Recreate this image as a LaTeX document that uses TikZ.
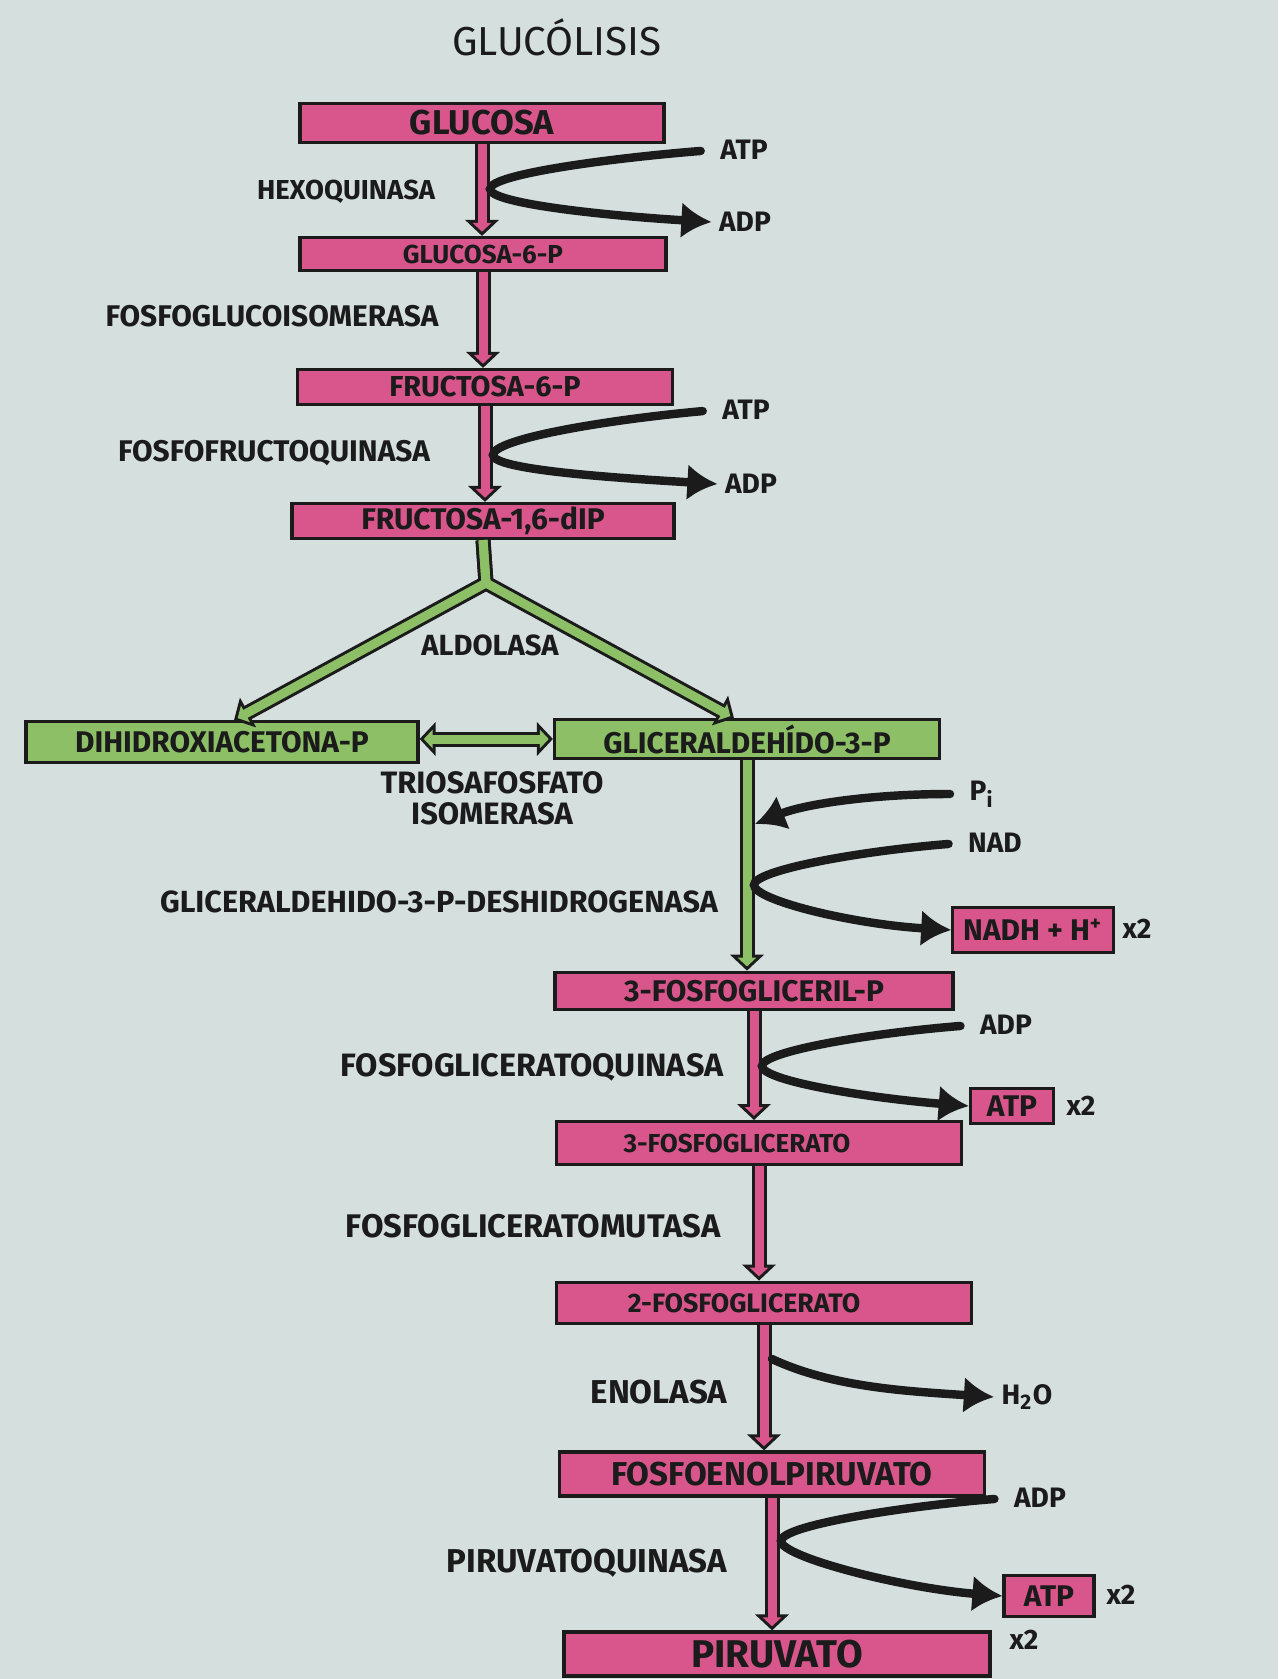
\documentclass[tikz,border=0pt]{standalone}
\usepackage{fontspec}
\setmainfont{Fira Sans}
\usetikzlibrary{arrows.meta,calc}
\definecolor{paper}{HTML}{D4DFDE}
\definecolor{ink}{HTML}{1B1B1B}
\definecolor{rosa}{HTML}{D8568C}
\definecolor{verde}{HTML}{8CBF66}
\tikzset{
  fatout/.tip={Triangle[length=1.6mm,width=3.3mm]},
  fatin/.tip={Triangle[length=0.88mm,width=1.82mm]},
  metab/.style={draw=ink,line width=0.9pt,fill=rosa,text=ink,inner sep=0pt,
    font=\bfseries\fontsize{#1}{10}\selectfont},
  metab/.default=8.5,
  triosa/.style={metab,fill=verde},
  enzima/.style={text=ink,align=center,font=\bfseries\fontsize{#1}{8.8}\selectfont},
  enzima/.default=8.4,
  cofac/.style={text=ink,inner sep=2pt,font=\bfseries\fontsize{8}{9}\selectfont},
  flowout/.style={draw=ink,line width=1.5mm,-fatout},
  flowin/.style={draw=#1,line width=0.9mm,shorten >=0.42mm,-fatin},
  cofarrow/.style={draw=ink,line width=2.4pt,line cap=round,-{Latex[length=3mm,width=3.6mm]}},
  fromtext/.style={shorten <=1.2mm}}
\begin{document}
\begin{tikzpicture}[x=0.1mm,y=-0.1mm]
\fill[paper] (0,0) rectangle (1278,1679);
\useasboundingbox (0,0) rectangle (1278,1679);
\node[text=ink,font=\fontsize{11.5}{13}\selectfont] (titulo) at (557,37) {GLUCÓLISIS};
% metabolitos
\node[metab=9.8,minimum width=36.4mm,minimum height=3.85mm] (glucosa) at (482,123) {GLUCOSA};
\node[metab=7.4,minimum width=36.6mm,minimum height=3.3mm] (g6p) at (483,254) {GLUCOSA-6-P};
\node[metab=8.2,minimum width=37.5mm,minimum height=3.5mm] (f6p) at (485,387) {FRUCTOSA-6-P};
\node[metab,minimum width=38.2mm,minimum height=3.5mm] (f16bp) at (483,521) {FRUCTOSA-1,6-dIP};
\node[triosa,minimum width=39.2mm,minimum height=4.06mm] (dhap) at (222,742) {DIHIDROXIACETONA-P};
\node[triosa,minimum width=38.5mm,minimum height=3.85mm] (gap) at (747,739) {GLICERALDEHÍDO-3-P};
\node[metab,minimum width=39.8mm,minimum height=3.75mm] (bpg) at (754,991) {3-FOSFOGLICERIL-P};
\node[metab=7.4,minimum width=40.5mm,minimum height=4.28mm] (pg3) at (759,1143) {3-FOSFOGLICERATO\hspace*{4.4mm}};
\node[metab=7.6,minimum width=41.5mm,minimum height=4.17mm] (pg2) at (764,1303) {2-FOSFOGLICERATO\hspace*{4mm}};
\node[metab=9.4,minimum width=42.5mm,minimum height=4.4mm] (pep) at (772,1474) {FOSFOENOLPIRUVATO};
\node[metab=11,minimum width=42.6mm,minimum height=4.4mm] (piruvato) at (777,1654) {PIRUVATO};
\node[metab,minimum width=16.05mm,minimum height=4.5mm] (nadh) at (1033,930) {NADH + H\textsuperscript{+}};
\node[metab,minimum width=8.34mm,minimum height=3.53mm] (atp3) at (1012,1106) {ATP};
\node[metab,minimum width=9mm,minimum height=4.07mm] (atp4) at (1049,1596) {ATP};
% enzimas
\node[enzima=7.8] (hexo) at (346,192) {HEXOQUINASA};
\node[enzima=8.5] (pgi) at (272,316) {FOSFOGLUCOISOMERASA};
\node[enzima=8.5] (pfk) at (274,453) {FOSFOFRUCTOQUINASA};
\node[enzima=8.3] (aldo) at (490,645) {ALDOLASA};
\node[enzima=8.8] (tpi) at (492,798) {TRIOSAFOSFATO\\ISOMERASA};
\node[enzima=8.7] (gapdh) at (439,902) {GLICERALDEHIDO-3-P-DESHIDROGENASA};
\node[enzima=9.2] (pgk) at (532,1067) {FOSFOGLICERATOQUINASA};
\node[enzima=9.3] (pgm) at (533,1226) {FOSFOGLICERATOMUTASA};
\node[enzima=9.4] (eno) at (659,1392) {ENOLASA};
\node[enzima=9.4] (pk) at (587,1563) {PIRUVATOQUINASA};
% cofactores
\node[cofac] (atp1) at (744,150) {ATP};\node[cofac] (adp1) at (745,222) {ADP};
\node[cofac] (atp2) at (746,410) {ATP};\node[cofac] (adp2) at (751,484) {ADP};
\node[cofac] (pi) at (982,794) {P\textsubscript{i}};\node[cofac] (nad) at (995,843) {NAD};
\node[cofac] (adp3) at (1006,1025) {ADP};\node[cofac] (h2o) at (1027,1397) {H\textsubscript{2}O};
\node[cofac] (adp4) at (1040,1498) {ADP};
\node[cofac] (xa) at (1137,929) {x2};\node[cofac] (xb) at (1081,1106) {x2};
\node[cofac] (xc) at (1121,1595) {x2};\node[cofac] (xd) at (1024,1640) {x2};
% flechas principales
\foreach \a/\b in {glucosa/g6p,g6p/f6p,f6p/f16bp,bpg/pg3,pg3/pg2,pg2/pep,pep/piruvato} {\draw[flowout] (\a.south) -- (\a.south |- \b.north);}
\foreach \a/\b in {glucosa/g6p,g6p/f6p,f6p/f16bp,bpg/pg3,pg3/pg2,pg2/pep,pep/piruvato} {\draw[flowin=rosa] (\a.south) -- (\a.south |- \b.north);}
\coordinate (fork) at (486,583);
\path (dhap.north) ++(12,0) coordinate (dhapin);\path (gap.north) ++(-13,0) coordinate (gapin);
\foreach \t in {dhapin,gapin} {\draw[flowout,line join=round] (f16bp.south) -- (fork) -- (\t);}
\draw[flowout,fatout-fatout] (gap.west -| dhap.east) -- (gap.west);
\draw[flowout] (gap.south) -- (gap.south |- bpg.north);
\foreach \t in {dhapin,gapin} {\draw[flowin=verde,line join=round] (f16bp.south) -- (fork) -- (\t);}
\draw[flowin=verde,fatin-fatin,shorten <=0.42mm] (gap.west -| dhap.east) -- (gap.west);
\draw[flowin=verde] (gap.south) -- (gap.south |- bpg.north);
% cofactores
\coordinate (j1) at (490,189);\coordinate (j2) at (493,455);\coordinate (pin) at (755,824);\coordinate (jn) at (754,885);
\coordinate (j3) at (762,1066);\coordinate (jh) at (772,1359);\coordinate (j4) at (781,1541);
\draw[cofarrow,fromtext] (atp1.west) .. controls +(-100,8) and +(0,-15) .. (j1) .. controls +(0,15) and +(-100,-6) .. (adp1.west);
\draw[cofarrow,fromtext] (atp2.west) .. controls +(-110,10) and +(0,-16) .. (j2) .. controls +(0,15) and +(-100,-6) .. (adp2.west);
\draw[cofarrow,fromtext] (pi.west) .. controls +(-90,0) and +(50,-20) .. (pin);
\draw[cofarrow,fromtext] (nad.west) .. controls +(-100,8) and +(0,-15) .. (jn) .. controls +(0,15) and +(-100,-6) .. (nadh.west);
\draw[cofarrow,fromtext] (adp3.west) .. controls +(-100,8) and +(0,-15) .. (j3) .. controls +(0,15) and +(-100,-8) .. (atp3.west);
\draw[cofarrow] (jh) .. controls +(60,28) and +(-90,-6) .. (h2o.west);
\draw[cofarrow,fromtext] (adp4.west) .. controls +(-100,8) and +(0,-16) .. (j4) .. controls +(0,16) and +(-100,-8) .. (atp4.west);
\end{tikzpicture}
\end{document}
